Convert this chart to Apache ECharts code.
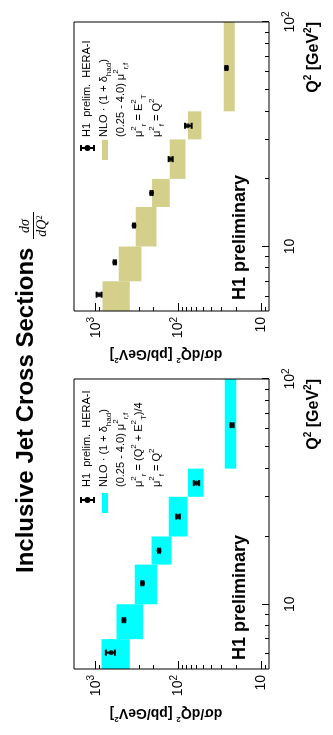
<!DOCTYPE html>
<html><head><meta charset="utf-8">
<script src="https://cdn.jsdelivr.net/npm/echarts@6/dist/echarts.min.js"></script>
<style>
html,body{margin:0;padding:0;width:333px;height:735px;overflow:hidden;background:#fff;}
#rot{position:absolute;left:0;top:0;width:735px;height:333px;transform-origin:0 0;transform:translateY(735px) rotate(-90deg);}
#chart{width:735px;height:333px;}
</style></head><body>
<div id="rot"><div id="chart"></div></div>
<script>
// Q^2 bins [GeV^2]
const qLo = [5, 7, 10, 15, 20, 30, 40];
const qHi = [7, 10, 15, 20, 30, 40, 100];
const qCenter = [6.1, 8.5, 12.4, 17.3, 24.5, 34.5, 62.4];
// Left panel (scale (Q^2+E_T^2)/4)
const dataA = [655, 456, 272, 171, 101, 60.4, 22.4];
const errLoA = [586, 440, 265, 166, 96, 56, 21.5];
const errHiA = [753, 472, 280, 176, 106, 65, 23.3];
const nloLoA = [386, 267, 181, 121, 77.6, 49.3, 19.9];
const nloHiA = [849, 560, 336, 211, 131, 76.4, 27.5];
// Right panel (scale E_T^2)
const dataB = [915, 587, 343, 211, 124, 77.6, 26.2];
const errLoB = [849, 570, 334, 205, 117, 69, 25.5];
const errHiB = [975, 605, 352, 217, 131, 83, 27];
const nloLoB = [386, 279, 184, 127, 82, 52.6, 20.8];
const nloHiB = [826, 525, 327, 208, 127, 76.4, 28.3];
// axis ticks
const xTickMajor = [10, 100];
const xTickMinor = [6, 7, 8, 9, 20, 30, 40, 50, 60, 70, 80, 90];
const yTickMajor = [10, 100, 1000];
const yTickMinor = [9, 20, 30, 40, 50, 60, 70, 80, 90, 200, 300, 400, 500, 600, 700, 800, 900];
const X_MIN = 5.16, X_MAX = 100;
const Y_MIN = 8.0, Y_MAX = 1830;

const FONT = '"Liberation Sans", Arial, Helvetica, sans-serif';
const CYAN = '#00ffff', KHAKI = '#d4d08b';

function powLabel(v) {
  const e = Math.round(Math.log10(v));
  return e === 1 ? '10' : '10{sup|' + e + '}';
}
const supRich = { sup: { fontSize: 10, lineHeight: 10, verticalAlign: 'top', fontFamily: FONT, color: '#000' } };

function makeX(gi) {
  return [
    { type: 'log', logBase: 10, gridIndex: gi, position: 'bottom', min: X_MIN, max: X_MAX,
      axisLine: { show: false }, splitLine: { show: false },
      axisTick: { show: true, inside: true, length: 7, customValues: xTickMajor, lineStyle: { color: '#000', width: 1 } },
      axisLabel: { show: true, customValues: xTickMajor, formatter: powLabel, margin: 12,
        fontSize: 14, lineHeight: 18, fontFamily: FONT, color: '#000', rich: supRich } },
    { type: 'log', logBase: 10, gridIndex: gi, position: 'bottom', min: X_MIN, max: X_MAX,
      axisLine: { show: false }, splitLine: { show: false },
      axisTick: { show: true, inside: true, length: 4, customValues: xTickMinor, lineStyle: { color: '#000', width: 1 } },
      axisLabel: { show: false } }
  ];
}
function makeY(gi) {
  return [
    { type: 'log', logBase: 10, gridIndex: gi, position: 'left', min: Y_MIN, max: Y_MAX,
      axisLine: { show: false }, splitLine: { show: false },
      axisTick: { show: true, inside: true, length: 8, customValues: yTickMajor, lineStyle: { color: '#000', width: 1 } },
      axisLabel: { show: true, customValues: yTickMajor, formatter: powLabel, margin: 6,
        fontSize: 14, lineHeight: 18, fontFamily: FONT, color: '#000', rich: supRich } },
    { type: 'log', logBase: 10, gridIndex: gi, position: 'left', min: Y_MIN, max: Y_MAX,
      axisLine: { show: false }, splitLine: { show: false },
      axisTick: { show: true, inside: true, length: 4, customValues: yTickMinor, lineStyle: { color: '#000', width: 1 } },
      axisLabel: { show: false } }
  ];
}

function boxSeries(axisIdx, lo, hi, color) {
  return {
    type: 'custom', xAxisIndex: axisIdx, yAxisIndex: axisIdx, clip: true, z: 1,
    data: qLo.map((q, i) => [q, qHi[i], lo[i], hi[i]]),
    encode: { x: [0, 1], y: [2, 3] },
    renderItem: function (params, api) {
      const p1 = api.coord([api.value(0), api.value(3)]);
      const p2 = api.coord([api.value(1), api.value(2)]);
      return { type: 'rect', shape: { x: p1[0], y: p1[1], width: p2[0] - p1[0], height: p2[1] - p1[1] },
        style: { fill: color } };
    }
  };
}
function errSeries(axisIdx, lo, hi) {
  return {
    type: 'custom', xAxisIndex: axisIdx, yAxisIndex: axisIdx, z: 3,
    data: qCenter.map((q, i) => [q, lo[i], hi[i]]),
    encode: { x: 0, y: [1, 2] },
    renderItem: function (params, api) {
      const t = api.coord([api.value(0), api.value(2)]);
      const b = api.coord([api.value(0), api.value(1)]);
      const st = { stroke: '#000', lineWidth: 2 };
      return { type: 'group', children: [
        { type: 'line', shape: { x1: t[0], y1: t[1], x2: b[0], y2: b[1] }, style: st },
        { type: 'line', shape: { x1: t[0] - 3, y1: t[1], x2: t[0] + 3, y2: t[1] }, style: st },
        { type: 'line', shape: { x1: b[0] - 3, y1: b[1], x2: b[0] + 3, y2: b[1] }, style: st }
      ] };
    }
  };
}
function pointSeries(axisIdx, vals) {
  return { type: 'scatter', xAxisIndex: axisIdx, yAxisIndex: axisIdx, z: 4, symbol: 'circle', symbolSize: 5,
    itemStyle: { color: '#000' }, silent: true,
    data: qCenter.map((q, i) => [q, vals[i]]) };
}

const legRich = {
  sub: { fontSize: 8, lineHeight: 8, verticalAlign: 'bottom', fontFamily: FONT, color: '#000' },
  sup: { fontSize: 8, lineHeight: 8, verticalAlign: 'top', fontFamily: FONT, color: '#000' }
};
function legText(x, y, txt) {
  return { type: 'text', x: x, y: y, silent: true,
    style: { text: txt, fontSize: 11, lineHeight: 18, fontFamily: FONT, fill: '#000', align: 'left', verticalAlign: 'middle', rich: legRich } };
}
function legendBlock(x0, boxX, markX, color, scaleLine) {
  return [
    legText(x0, 87, 'H1  prelim.  HERA-I'),
    legText(x0, 104, 'NLO · (1 + δ{sub|had})'),
    legText(x0, 121, '(0.25 - 4.0) μ{sup|2}{sub|r,f}'),
    legText(x0, 139, scaleLine),
    legText(x0, 157, 'μ{sup|2}{sub|f} = Q{sup|2}'),
    { type: 'rect', silent: true, shape: { x: boxX, y: 102, width: 20, height: 6 }, style: { fill: color } },
    { type: 'group', silent: true, children: [
      { type: 'line', shape: { x1: markX, y1: 81, x2: markX, y2: 94 }, style: { stroke: '#000', lineWidth: 2 } },
      { type: 'line', shape: { x1: markX - 3, y1: 81, x2: markX + 3, y2: 81 }, style: { stroke: '#000', lineWidth: 2 } },
      { type: 'line', shape: { x1: markX - 3, y1: 94, x2: markX + 3, y2: 94 }, style: { stroke: '#000', lineWidth: 2 } },
      { type: 'circle', shape: { cx: markX, cy: 87.5, r: 3 }, style: { fill: '#000' } }
    ] }
  ];
}
function boldText(x, y, txt, size, align, rot) {
  return { type: 'text', x: x, y: y, rotation: rot || 0, silent: true,
    style: { text: txt, fontSize: size, fontWeight: 'bold', fontFamily: FONT, fill: '#000', align: align, verticalAlign: 'middle',
      rich: { sup: { fontSize: Math.round(size * 0.6), lineHeight: Math.round(size * 0.6), fontWeight: 'bold', verticalAlign: 'top', fontFamily: FONT, color: '#000' } },
      lineHeight: Math.round(size * 1.4) } };
}

const serif = '"Liberation Serif", "DejaVu Serif", serif';
const graphics = [].concat(
  boldText(162, 26, 'Inclusive Jet Cross Sections', 24, 'left'),
  [
    { type: 'text', x: 509, y: 32, silent: true, style: { text: 'dσ', fontSize: 14, fontStyle: 'italic', fontFamily: serif, fill: '#000', align: 'center', verticalAlign: 'bottom' } },
    { type: 'line', silent: true, shape: { x1: 496, y1: 33.5, x2: 523, y2: 33.5 }, style: { stroke: '#000', lineWidth: 1 } },
    { type: 'text', x: 509, y: 35, silent: true, style: { text: 'dQ{sup|2}', fontSize: 14, fontStyle: 'italic', fontFamily: serif, fill: '#000', align: 'center', verticalAlign: 'top', lineHeight: 15,
      rich: { sup: { fontSize: 9, lineHeight: 9, verticalAlign: 'top', fontFamily: serif, color: '#000' } } } }
  ],
  boldText(22, 166, 'dσ/dQ{sup|2} [pb/GeV{sup|2}]', 14, 'center', Math.PI / 2),
  boldText(381, 166, 'dσ/dQ{sup|2} [pb/GeV{sup|2}]', 14, 'center', Math.PI / 2),
  boldText(356, 314, 'Q{sup|2} [GeV{sup|2}]', 16, 'right'),
  boldText(713, 314, 'Q{sup|2} [GeV{sup|2}]', 16, 'right'),
  boldText(75, 240, 'H1 preliminary', 18, 'left'),
  boldText(435, 240, 'H1 preliminary', 18, 'left'),
  legendBlock(248, 222, 235, CYAN, 'μ{sup|2}{sub|r} = (Q{sup|2} + E{sup|2}{sub|T})/4'),
  legendBlock(598, 575, 587, KHAKI, 'μ{sup|2}{sub|r} = E{sup|2}{sub|T}')
);

const option = {
  animation: false,
  backgroundColor: '#fff',
  grid: [
    { left: 66, top: 74, width: 290, height: 195, show: true, borderColor: '#000', borderWidth: 1, backgroundColor: 'rgba(0,0,0,0)', z: 5 },
    { left: 424, top: 74, width: 289, height: 195, show: true, borderColor: '#000', borderWidth: 1, backgroundColor: 'rgba(0,0,0,0)', z: 5 }
  ],
  xAxis: makeX(0).concat(makeX(1)),
  yAxis: makeY(0).concat(makeY(1)),
  series: [
    boxSeries(0, nloLoA, nloHiA, CYAN),
    errSeries(0, errLoA, errHiA),
    pointSeries(0, dataA),
    boxSeries(2, nloLoB, nloHiB, KHAKI),
    errSeries(2, errLoB, errHiB),
    pointSeries(2, dataB)
  ],
  graphic: graphics
};
const chart = echarts.init(document.getElementById('chart'), null, { renderer: 'canvas', width: 735, height: 333 });
chart.setOption(option);
</script>
</body></html>
